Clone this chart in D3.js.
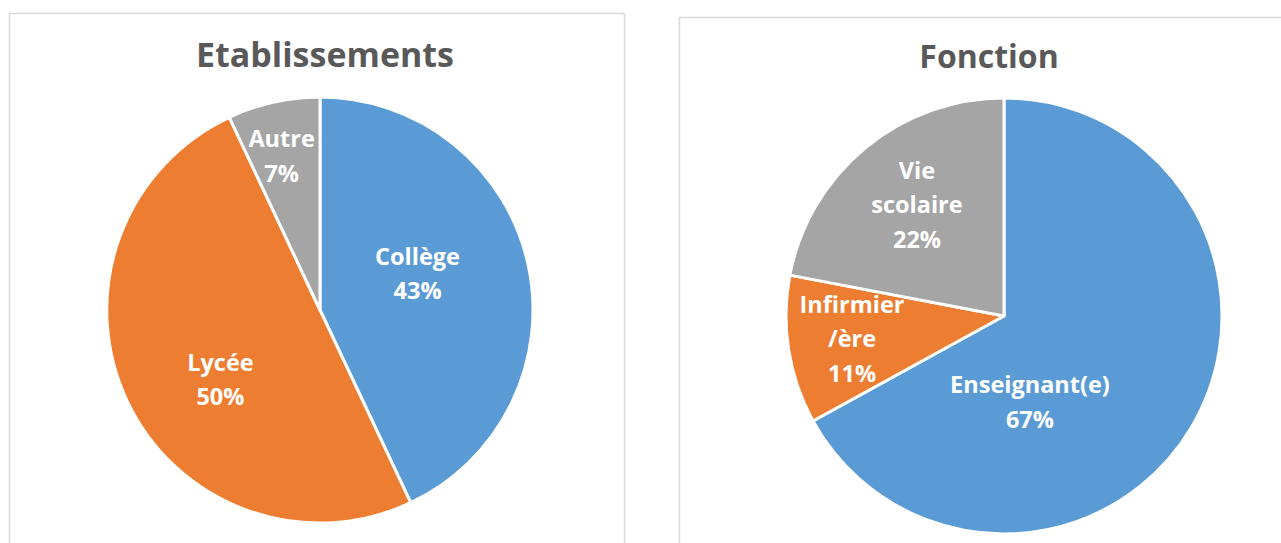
<!DOCTYPE html>
<html>
<head>
<meta charset="utf-8">
<script src="https://cdn.jsdelivr.net/npm/d3@7"></script>
<style>
  body { margin: 0; background: #fff; }
  text { font-family: "Open Sans", "DejaVu Sans", sans-serif; font-weight: bold; }
</style>
</head>
<body>
<div id="chart"></div>
<script>
var width = 1281;
var height = 543;

// data
var etabCategories = ["Collège", "Lycée", "Autre"];
var etabValues = [43, 50, 7];
var etabLabelLines = [["Collège"], ["Lycée"], ["Autre"]];

var fonctionCategories = ["Enseignant(e)", "Infirmier/ère", "Vie scolaire"];
var fonctionValues = [67, 11, 22];
var fonctionLabelLines = [["Enseignant(e)"], ["Infirmier", "/ère"], ["Vie", "scolaire"]];

var sliceColors = ["#5B9BD5", "#ED7D31", "#A5A5A5"];

var svg = d3.select("#chart")
    .append("svg")
    .attr("width", width)
    .attr("height", height);

// chart frames
svg.append("rect")
    .attr("x", 9.5).attr("y", 13.5)
    .attr("width", 615).attr("height", 560)
    .attr("fill", "none").attr("stroke", "#d9d9d9").attr("stroke-width", 1.5);
svg.append("rect")
    .attr("x", 679.5).attr("y", 17.5)
    .attr("width", 640).attr("height", 560)
    .attr("fill", "none").attr("stroke", "#d9d9d9").attr("stroke-width", 1.5);

function drawPie(opts) {
    var data = opts.values.map(function(v, i) {
        return { name: opts.categories[i], value: v, lines: opts.lines[i] };
    });
    var pie = d3.pie().sort(null).value(function(d) { return d.value; });
    var arcs = pie(data);
    var arc = d3.arc().innerRadius(0).outerRadius(opts.r);

    var g = svg.append("g")
        .attr("transform", "translate(" + opts.cx + "," + opts.cy + ")");

    g.selectAll("path")
        .data(arcs)
        .enter()
        .append("path")
        .attr("d", arc)
        .attr("fill", function(d, i) { return sliceColors[i]; })
        .attr("stroke", "#fff")
        .attr("stroke-width", 3)
        .attr("stroke-linejoin", "round");

    var total = d3.sum(opts.values);
    var fs = 23.5, lh = 34.5;

    arcs.forEach(function(d, i) {
        var a = (d.startAngle + d.endAngle) / 2 + opts.labelShift[i] * Math.PI / 180;
        var rad = opts.labelR[i] * opts.r;
        var x = rad * Math.sin(a);
        var y = -rad * Math.cos(a);
        var lines = d.data.lines.concat([Math.round(d.data.value / total * 100) + "%"]);
        var t = g.append("text")
            .attr("text-anchor", "middle")
            .attr("fill", "#fff")
            .style("font-size", fs + "px");
        lines.forEach(function(line, j) {
            t.append("tspan")
                .attr("x", x)
                .attr("y", y + (j - (lines.length - 1) / 2) * lh + fs * 0.36)
                .text(line);
        });
    });

    svg.append("text")
        .attr("x", opts.titleX)
        .attr("y", opts.titleY)
        .attr("text-anchor", "middle")
        .attr("fill", "#595959")
        .style("font-size", opts.titleSize + "px")
        .text(opts.title);
}

drawPie({
    title: "Etablissements", titleX: 325, titleY: 67, titleSize: 34,
    categories: etabCategories, values: etabValues, lines: etabLabelLines,
    cx: 320, cy: 310, r: 213,
    labelR: [0.489, 0.57, 0.745],
    labelShift: [-7.9, -9.7, -1.4]
});

drawPie({
    title: "Fonction", titleX: 989, titleY: 68, titleSize: 32,
    categories: fonctionCategories, values: fonctionValues, lines: fonctionLabelLines,
    cx: 1004, cy: 316, r: 218,
    labelR: [0.412, 0.705, 0.647],
    labelShift: [42.6, 0.4, 1.5]
});
</script>
</body>
</html>
